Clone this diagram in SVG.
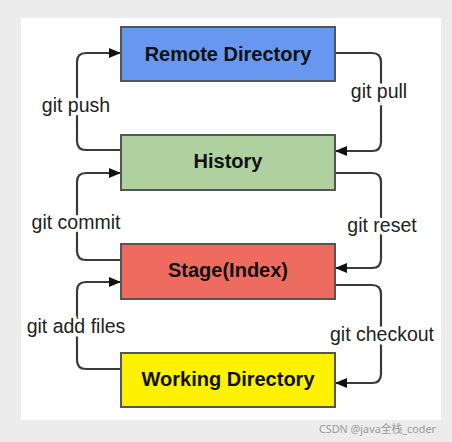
<svg xmlns="http://www.w3.org/2000/svg" width="452" height="442" viewBox="0 0 452 442">
<defs>
<style>
.box{stroke:#555;stroke-width:2}
.bt{font-family:"Liberation Sans",Arial,sans-serif;font-weight:bold;font-size:20px;fill:#111;text-anchor:middle}
.lt{font-family:"Liberation Sans",Arial,sans-serif;font-size:19.5px;fill:#222;text-anchor:middle;stroke:#fff;stroke-width:7;paint-order:stroke;stroke-linejoin:round}
.c{fill:none;stroke:#3a3a3a;stroke-width:2.2;marker-end:url(#ah)}
</style>
<marker id="ah" viewBox="0 0 12 10" refX="12" refY="5" markerWidth="12" markerHeight="10" markerUnits="userSpaceOnUse" orient="auto">
<path d="M0,0 L12,5 L0,10 Z" fill="#111"/>
</marker>
</defs>
<rect width="452" height="442" fill="#ececec"/>
<rect x="21" y="18" width="420" height="402" fill="#fff"/>
<g id="connectors">
<path class="c" d="M121,150 H86 Q77,150 77,141 V62 Q77,53 86,53 H121"/>
<path class="c" d="M335,53 H372 Q381,53 381,62 V142 Q381,151 372,151 H335"/>
<path class="c" d="M121,260 H86 Q77,260 77,251 V182 Q77,173 86,173 H121"/>
<path class="c" d="M335,173 H372 Q381,173 381,182 V259 Q381,268 372,268 H335"/>
<path class="c" d="M121,369 H86 Q77,369 77,360 V291 Q77,282 86,282 H121"/>
<path class="c" d="M335,285 H372 Q381,285 381,294 V374 Q381,383 372,383 H335"/>
<text class="lt" x="76" y="112">git push</text>
<text class="lt" x="379" y="98">git pull</text>
<text class="lt" x="76" y="229">git commit</text>
<text class="lt" x="382" y="232">git reset</text>
<text class="lt" x="76" y="333">git add files</text>
<text class="lt" x="382" y="341">git checkout</text>
</g>
<g id="remote">
<rect class="box" x="121" y="27" width="214" height="54" fill="#6797ee"/>
<text class="bt" x="228" y="61">Remote Directory</text>
</g>
<g id="history">
<rect class="box" x="121" y="135" width="214" height="55" fill="#aed19f"/>
<text class="bt" x="228" y="168">History</text>
</g>
<g id="stage">
<rect class="box" x="121" y="244" width="214" height="55" fill="#ed6c5f"/>
<text class="bt" x="228" y="277">Stage(Index)</text>
</g>
<g id="working">
<rect class="box" x="121" y="353" width="214" height="54" fill="#fff200"/>
<text class="bt" x="228" y="386">Working Directory</text>
</g>
<text x="436" y="433" font-family="'Noto Sans','Noto Sans CJK SC',sans-serif" font-size="10.8" fill="#9a9a9a" text-anchor="end">CSDN @java全栈_coder</text>
</svg>
